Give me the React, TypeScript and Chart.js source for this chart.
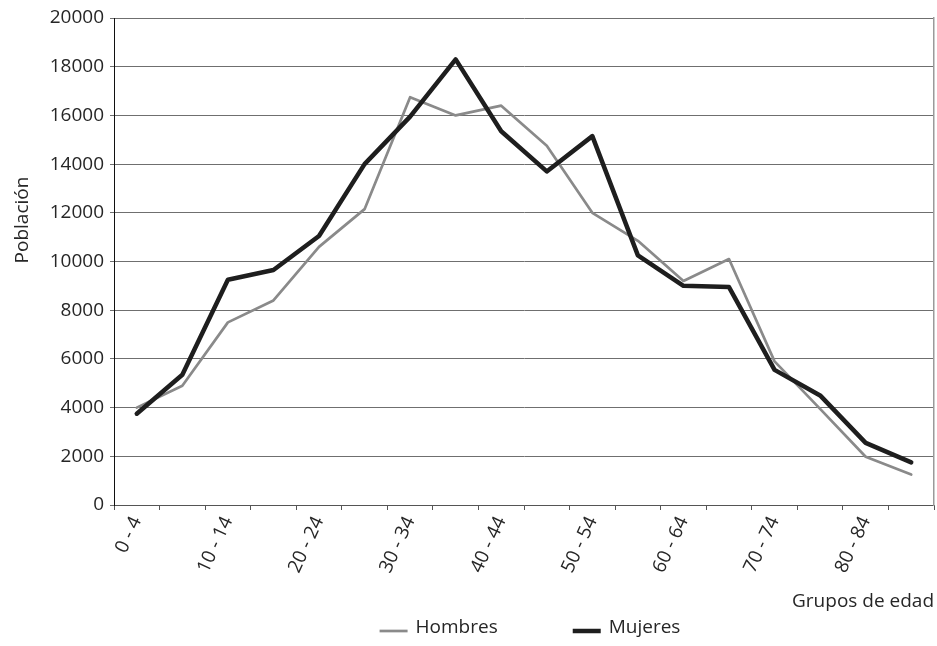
import React, { useEffect, useRef } from "react";
import { Chart, registerables } from "chart.js";

Chart.register(...registerables);

const ageGroups = [
  "0 - 4", "5 - 9", "10 - 14", "15 - 19", "20 - 24", "25 - 29",
  "30 - 34", "35 - 39", "40 - 44", "45 - 49", "50 - 54", "55 - 59",
  "60 - 64", "65 - 69", "70 - 74", "75 - 79", "80 - 84", "85 - 89",
];
const hombres = [4000, 4900, 7500, 8400, 10600, 12150, 16750, 16000, 16400, 14750, 12000, 10850, 9200, 10100, 5900, 3950, 1980, 1250];
const mujeres = [3750, 5350, 9250, 9650, 11050, 14000, 15950, 18300, 15350, 13700, 15150, 10250, 9000, 8950, 5550, 4500, 2550, 1750];
const yMin = 0;
const yMax = 20000;
const yStep = 2000;
const yTitle = "Población";
const xTitle = "Grupos de edad";

const FONT = "'Open Sans', sans-serif";
const TEXT = "#262626";

const decorPlugin = {
  id: "decor",
  afterDraw(chart: any) {
    const ctx = chart.ctx as CanvasRenderingContext2D;
    const area = chart.chartArea;
    ctx.save();
    ctx.font = `19px ${FONT}`;
    ctx.fillStyle = TEXT;
    // y-axis title
    ctx.save();
    ctx.translate(22.5, 220);
    ctx.rotate(-Math.PI / 2);
    ctx.textAlign = "center";
    ctx.textBaseline = "middle";
    ctx.fillText(yTitle, 0, 0);
    ctx.restore();
    // legend
    const ds = chart.data.datasets;
    const lineLen = 28;
    const gap = 8;
    const itemGap = 75;
    const widths = ds.map((d: any) => ctx.measureText(d.label).width);
    const total = widths.reduce((a: number, w: number) => a + lineLen + gap + w, 0) + itemGap * (ds.length - 1);
    let x = (area.left + area.right) / 2 + 6 - total / 2;
    const ty = 628;
    ds.forEach((d: any, i: number) => {
      ctx.beginPath();
      ctx.strokeStyle = d.borderColor;
      ctx.lineWidth = d.borderWidth;
      ctx.lineCap = "butt";
      ctx.moveTo(x, ty + 3);
      ctx.lineTo(x + lineLen, ty + 3);
      ctx.stroke();
      ctx.fillStyle = TEXT;
      ctx.textAlign = "left";
      ctx.textBaseline = "middle";
      ctx.fillText(d.label, x + lineLen + gap, ty);
      x += lineLen + gap + widths[i] + itemGap;
    });
    ctx.restore();
  },
};

export default function App() {
  const ref = useRef<HTMLCanvasElement>(null);
  useEffect(() => {
    if (!ref.current) return;
    const chart = new Chart(ref.current, {
      type: "line",
      data: {
        labels: ageGroups,
        datasets: [
          {
            label: "Hombres",
            data: hombres,
            borderColor: "#8a8a8a",
            backgroundColor: "#8a8a8a",
            borderWidth: 2.7,
            pointRadius: 0,
            tension: 0,
            borderJoinStyle: "round",
            borderCapStyle: "round",
            order: 1,
          },
          {
            label: "Mujeres",
            data: mujeres,
            borderColor: "#1e1e1e",
            backgroundColor: "#1e1e1e",
            borderWidth: 4.5,
            pointRadius: 0,
            tension: 0,
            borderJoinStyle: "round",
            borderCapStyle: "round",
            order: 0,
          },
        ],
      },
      options: {
        animation: false,
        responsive: true,
        maintainAspectRatio: false,
        layout: { padding: { left: 0, right: 3, top: 18, bottom: 33 } },
        plugins: {
          legend: { display: false },
          tooltip: { enabled: false },
        },
        scales: {
          x: {
            type: "category",
            offset: true,
            grid: {
              display: true,
              offset: true,
              drawOnChartArea: false,
              drawTicks: true,
              tickLength: 5,
              color: "#555",
            },
            border: { display: true, color: "#555", width: 1 },
            ticks: {
              autoSkip: false,
              minRotation: 65,
              maxRotation: 65,
              padding: 3,
              color: TEXT,
              font: { family: FONT, size: 19 },
              callback: (_v: any, i: number) => (i % 2 === 0 ? ageGroups[i] : ""),
            },
            title: {
              display: true,
              text: xTitle,
              align: "end",
              color: TEXT,
              font: { family: FONT, size: 19 },
              padding: { top: 4, bottom: 0 },
            },
            afterFit: (scale: any) => {
              scale.height = 108;
            },
          },
          y: {
            min: yMin,
            max: yMax,
            ticks: {
              stepSize: yStep,
              padding: 6,
              color: TEXT,
              font: { family: FONT, size: 19 },
              callback: (v: any) => String(v),
            },
            grid: {
              color: "#6f6f6f",
              lineWidth: 1,
              drawTicks: true,
              tickLength: 4,
            },
            border: { display: true, color: "#111", width: 1 },
            afterFit: (scale: any) => {
              scale.width = 114;
            },
          },
          y2: {
            position: "right",
            grid: { display: false, drawTicks: false },
            ticks: { display: false },
            border: { display: true, color: "#9a9a9a", width: 1.5 },
          },
        },
      },
      plugins: [decorPlugin],
    } as any);
    return () => chart.destroy();
  }, []);
  return (
    <div style={{ position: "fixed", left: 0, top: 0, width: 937, height: 646, background: "#fff" }}>
      <canvas ref={ref} />
    </div>
  );
}
